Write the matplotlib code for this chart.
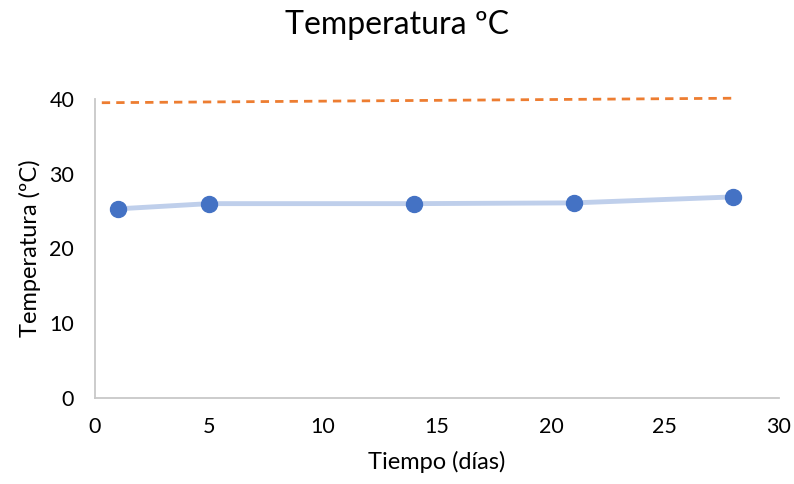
import numpy as np
import matplotlib.pyplot as plt

plt.rcParams['font.family'] = ['Lato', 'DejaVu Sans']

dias = [1, 5, 14, 21, 28]
temp = [25.3, 26.0, 26.0, 26.1, 26.9]
lim_x = [0.3, 28]
lim_y = [39.5, 40.1]

fig = plt.figure(figsize=(7.94, 4.84), dpi=100)
ax = fig.add_axes([0.1196, 0.1777, 0.8614, 0.6178])

ax.plot(lim_x, lim_y, color='#ED7D31', lw=2, ls=(0, (3, 2.2)), clip_on=False)
ax.plot(dias, temp, color='#bfcfeb', lw=3.5, solid_capstyle='butt', zorder=2)
ax.plot(dias, temp, ls='none', marker='o', ms=11.5, color='#4472C4', zorder=3)

ax.set_xlim(0, 30)
ax.set_ylim(0, 40)
ax.set_xticks(np.arange(0, 31, 5))
ax.set_yticks(np.arange(0, 41, 10))
for s in ['top', 'right']:
    ax.spines[s].set_visible(False)
for s in ['left', 'bottom']:
    ax.spines[s].set_color('#c8c8c8')
    ax.spines[s].set_linewidth(1.3)
ax.tick_params(length=0, labelsize=15.5)
ax.tick_params(axis='x', pad=14)
ax.tick_params(axis='y', pad=15)
ax.set_xlabel('Tiempo (días)', fontsize=17, labelpad=10)
ax.set_ylabel('Temperatura (ºC)', fontsize=17, labelpad=6)
fig.suptitle('Temperatura ºC', fontsize=23, y=0.98)

fig.savefig('out.png', dpi=100)
